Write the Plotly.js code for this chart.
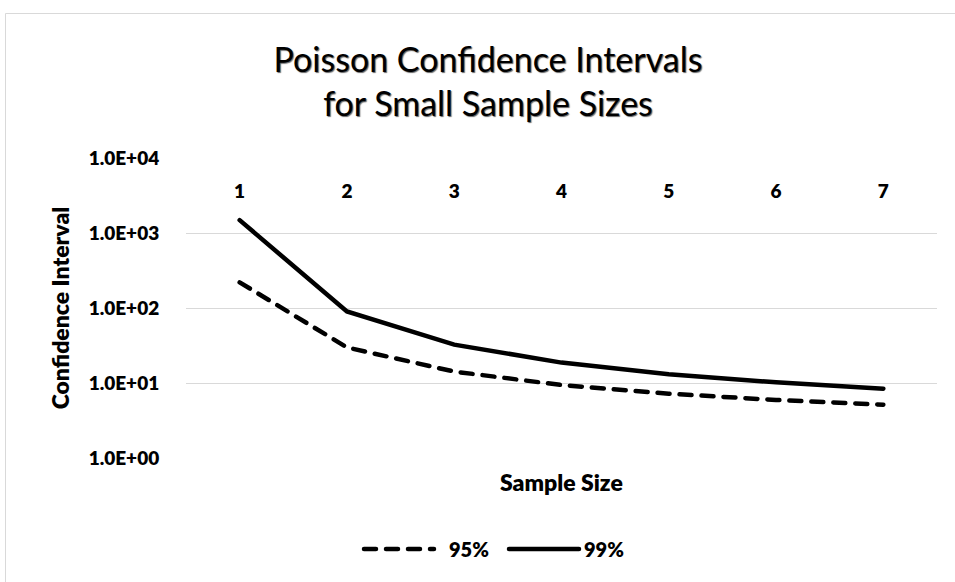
<!DOCTYPE html>
<html><head><meta charset="utf-8">
<script src="https://cdn.plot.ly/plotly-3.0.1.min.js"></script>
<style>html,body{margin:0;padding:0;background:#fff}#chart{width:955px;height:582px}
#chart path.js-line{stroke-linecap:round}</style>
</head><body><div id="chart"></div>
<script>
const categories = ['1','2','3','4','5','6','7'];
const ci95 = [220, 29.8, 14.2, 9.39, 7.20, 5.94, 5.13];
const ci99 = [1483, 90.0, 32.5, 18.7, 13.1, 10.2, 8.40];
const seriesNames = ['95%', '99%'];
const yTickVals = [1, 10, 100, 1000, 10000];
const yTickText = ['1.0E+00','1.0E+01','1.0E+02','1.0E+03','1.0E+04'];

const FONT = 'Lato, "Open Sans", sans-serif';
const W = 800;
const traces = [
  {x: categories, y: ci95, name: '\u2002' + seriesNames[0], type: 'scatter', mode: 'lines',
   line: {color: '#000', width: 4.5, dash: '12px,10px'}},
  {x: categories, y: ci99, name: seriesNames[1], type: 'scatter', mode: 'lines',
   line: {color: '#000', width: 4.5}}
];
const layout = {
  width: 955, height: 582,
  margin: {l: 186, r: 18, t: 158, b: 124},
  paper_bgcolor: '#fff', plot_bgcolor: '#fff',
  font: {family: FONT, color: '#000', size: 19, weight: W},
  title: {text: 'Poisson Confidence Intervals<br>for Small Sample Sizes',
          x: 488/955, xref: 'container', xanchor: 'center',
          y: 1 - 72/582, yref: 'container', yanchor: 'middle',
          font: {family: FONT, size: 34, color: '#000', weight: 'normal', shadow: '1px 1px 1px #666'}},
  xaxis: {type: 'category', range: [-0.5, 6.5], anchor: 'free', position: 1, side: 'bottom',
          showgrid: false, showline: false, zeroline: false,
          ticks: 'outside', ticklen: 16, tickcolor: 'rgba(0,0,0,0)',
          tickfont: {family: FONT, size: 19, color: '#000', weight: W}},
  yaxis: {type: 'log', range: [0, 4], tickvals: yTickVals, ticktext: yTickText,
          showgrid: true, gridcolor: '#d9d9d9', gridwidth: 1, zeroline: false, showline: false,
          ticks: 'outside', ticklen: 22, tickcolor: 'rgba(0,0,0,0)',
          tickfont: {family: FONT, size: 19, color: '#000', weight: W},
          title: {text: 'Confidence Interval', standoff: 12,
                  font: {family: FONT, size: 23, color: '#000', weight: W}}},
  showlegend: true,
  legend: {orientation: 'h', x: (364 - 5 - 186)/751, xanchor: 'left', y: (458 - 549)/300, yanchor: 'middle',
           itemwidth: 70, entrywidth: 60,
           font: {family: FONT, size: 20, color: '#000', weight: W}},
  annotations: [
    {text: 'Sample Size', xref: 'paper', yref: 'paper', x: 0.5, y: (458 - 482)/300,
     xanchor: 'center', yanchor: 'middle', showarrow: false,
     font: {family: FONT, size: 23, color: '#000', weight: W}}
  ],
  shapes: [
    {type: 'rect', xref: 'paper', yref: 'paper', x0: (5.5 - 186)/751, x1: 1.2,
     y0: -1, y1: (458 - 13.5)/300, line: {color: '#d9d9d9', width: 1}, layer: 'below'}
  ]
};
Plotly.newPlot('chart', traces, layout, {displayModeBar: false, staticPlot: true});
</script></body></html>
